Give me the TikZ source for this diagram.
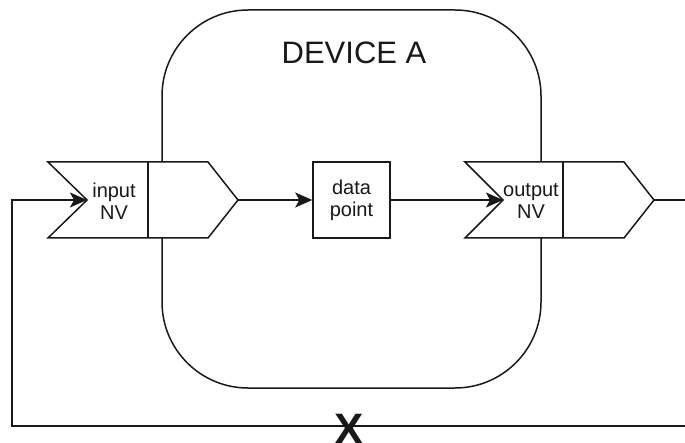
\documentclass[tikz,border=0pt]{standalone}
\usepackage{fontspec}
\setmainfont{Liberation Sans}
\usetikzlibrary{arrows.meta}
\begin{document}
\begin{tikzpicture}[x=1pt,y=-1pt,
  ln/.style={line width=1.5pt, draw=black!90, line join=miter},
  arr/.style={ln, -{Stealth[length=17pt,width=15pt,inset=4pt]}},
  lbl/.style={font=\fontsize{20}{22}\selectfont, align=center, text=black!90},
  title/.style={font=\fontsize{31}{34}\selectfont, text=black!90}]
\useasboundingbox (0,0) rectangle (685,443);
% device
\draw[ln, rounded corners=86pt] (162,10) rectangle (541,388);
\node[title] (devlabel) at (354,53) {DEVICE A};
% input NV
\coordinate (inTL) at (48,162);
\coordinate (inTip) at (87,200);
\coordinate (inBL) at (48,238);
\coordinate (inDivT) at (148,162);
\coordinate (inDivB) at (148,238);
\coordinate (inRT) at (208,162);
\coordinate (inOut) at (238,200);
\coordinate (inRB) at (208,238);
\filldraw[ln, fill=white] (inTL) -- (inRT) -- (inOut) -- (inRB) -- (inBL) -- (inTip) -- cycle;
\draw[ln] (inDivT) -- (inDivB);
\node[lbl] (inlabel) at (114,201) {input\\NV};
% data point
\node[ln, fill=white, minimum width=77pt, minimum height=76pt, inner sep=0pt, lbl] (dp) at (351.5,200) {data\\point};
% output NV
\coordinate (outTL) at (465,162);
\coordinate (outTip) at (503,200);
\coordinate (outBL) at (465,238);
\coordinate (outDivT) at (563,162);
\coordinate (outDivB) at (563,238);
\coordinate (outRT) at (624,162);
\coordinate (outOut) at (654,200);
\coordinate (outRB) at (624,238);
\filldraw[ln, fill=white] (outTL) -- (outRT) -- (outOut) -- (outRB) -- (outBL) -- (outTip) -- cycle;
\draw[ln] (outDivT) -- (outDivB);
\node[lbl] (outlabel) at (531,201) {output\\NV};
% connectors
\draw[arr] (inOut) -- (dp.west);
\draw[arr] (dp.east) -- (outTip);
\coordinate (rightEnd) at (685,200);
\draw[ln] (outOut) -- (rightEnd);
\coordinate (fbRight) at (685,426);
\coordinate (fbLeftBot) at (12,426);
\coordinate (fbLeftTop) at (12,200);
\draw[arr] (fbRight) -- (fbLeftBot) -- (fbLeftTop) -- (inTip);
\node[font=\fontsize{44}{44}\selectfont\bfseries, text=black!90, anchor=base, inner sep=0pt] (xmark) at (349,444) {X};
\end{tikzpicture}
\end{document}
